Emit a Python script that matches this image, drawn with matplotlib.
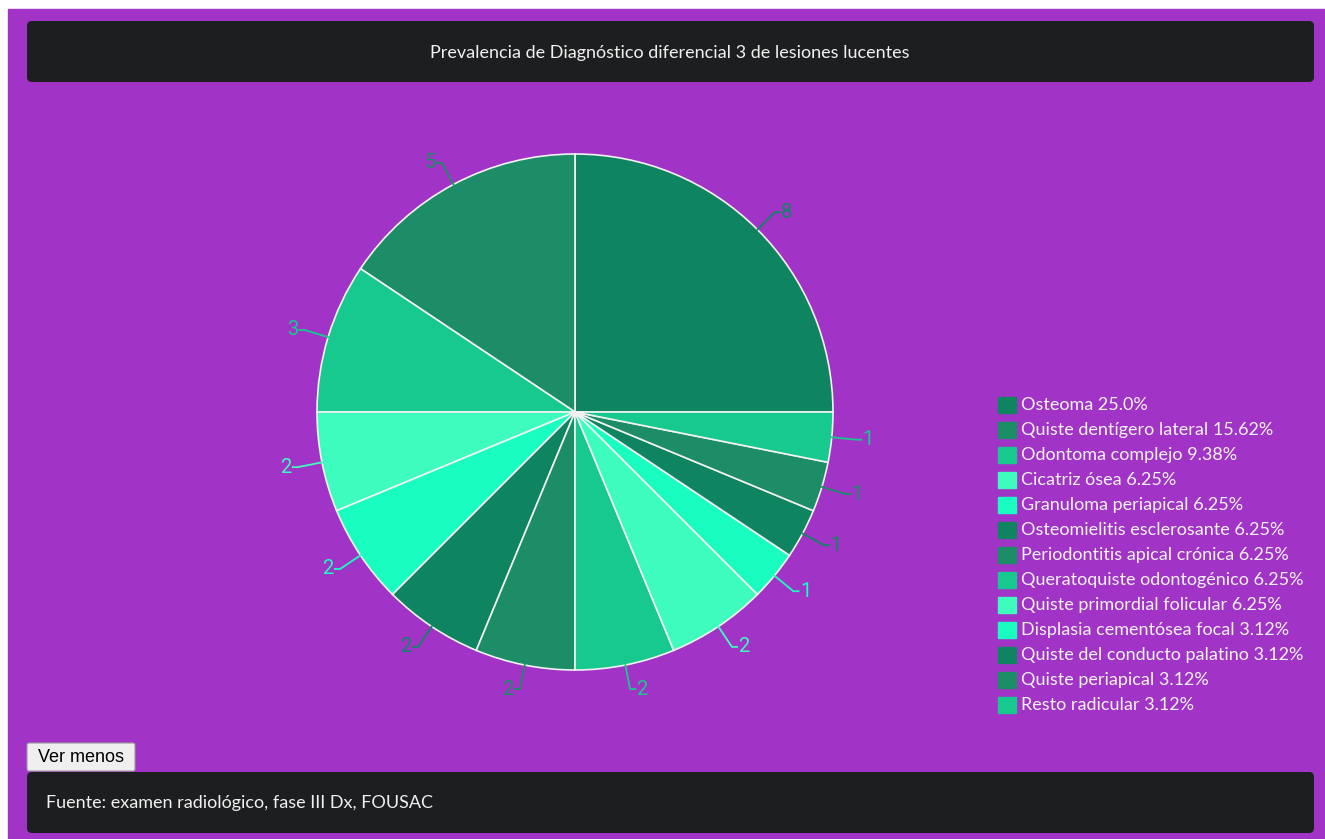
import matplotlib.pyplot as plt
from matplotlib.patches import FancyBboxPatch, Rectangle
import numpy as np

# data
categorias = ["Osteoma", "Quiste dentígero lateral", "Odontoma complejo", "Cicatriz ósea",
              "Granuloma periapical", "Osteomielitis esclerosante", "Periodontitis apical crónica",
              "Queratoquiste odontogénico", "Quiste primordial folicular", "Displasia cementósea focal",
              "Quiste del conducto palatino", "Quiste periapical", "Resto radicular"]
valores = [8, 5, 3, 2, 2, 2, 2, 2, 2, 1, 1, 1, 1]
paleta = ["#0e8560", "#1c8d67", "#17c98f", "#3efcbd", "#1afdc1"]
titulo = "Prevalencia de Diagnóstico diferencial 3 de lesiones lucentes"
fuente = "Fuente: examen radiológico, fase III Dx, FOUSAC"

W, H = 1325, 839
FONT = ["Lato", "DejaVu Sans"]
morado = "#a133c7"
oscuro = "#1d1e20"

fig = plt.figure(figsize=(W / 100, H / 100), dpi=100)
fig.patch.set_facecolor("white")

# capa de fondo en pixeles
bg = fig.add_axes([0, 0, 1, 1])
bg.set_xlim(0, W)
bg.set_ylim(H, 0)
bg.axis("off")
bg.add_patch(Rectangle((8, 9), W - 8, H - 9, color=morado, zorder=0))
bg.add_patch(FancyBboxPatch((27, 21), 1287, 61, boxstyle="round,pad=0,rounding_size=5",
                            fc=oscuro, ec="none", zorder=1))
bg.add_patch(FancyBboxPatch((27, 772), 1287, 61, boxstyle="round,pad=0,rounding_size=5",
                            fc=oscuro, ec="none", zorder=1))
bg.text(670, 53, titulo, color="#f0f0f0", fontsize=13, family=FONT, ha="center", va="center")
bg.text(46, 803, fuente, color="#f0f0f0", fontsize=13, family=FONT, ha="left", va="center")
bg.add_patch(FancyBboxPatch((27, 743), 108, 28, boxstyle="round,pad=0,rounding_size=2",
                            fc="#efefef", ec="#9a9a9a", lw=0.8, zorder=1))
bg.text(81, 757.5, "Ver menos", color="black", fontsize=13, family=["Liberation Sans"],
        ha="center", va="center")

# leyenda
total = sum(valores)
colores = [paleta[i % len(paleta)] for i in range(len(valores))]
for i, (c, v) in enumerate(zip(categorias, valores)):
    y = 405 + i * 25
    bg.add_patch(Rectangle((998, y - 8), 18, 16, color=colores[i], zorder=2))
    bg.text(1021, y, f"{c} {round(v / total * 100, 2)}%", color="#f4f4f4", fontsize=13,
            family=FONT, ha="left", va="center")

# pastel
cx, cy, R = 575, 412, 258
half = 300
ax = fig.add_axes([(cx - half) / W, (H - cy - half) / H, 2 * half / W, 2 * half / H])
wedges, _ = ax.pie(valores, colors=colores, startangle=0, counterclock=True, radius=1,
                   wedgeprops=dict(edgecolor="#f2f2f2", linewidth=1.2))
ax.set_xlim(-half / R, half / R)
ax.set_ylim(-half / R, half / R)
ax.axis("off")

for w, v, col in zip(wedges, valores, colores):
    ang = np.deg2rad((w.theta1 + w.theta2) / 2)
    x0, y0 = np.cos(ang), np.sin(ang)
    x1, y1 = 1.095 * x0, 1.095 * y0
    s = 1 if x0 >= 0 else -1
    x2 = x1 + s * 0.02
    ax.plot([x0, x1, x2], [y0, y1, y1], color=col, lw=1.3, clip_on=False)
    ax.text(x2 + s * 0.005, y1, str(v), color=col, fontsize=14.5, family=["Roboto", "DejaVu Sans"],
            ha="left" if s > 0 else "right", va="center")

fig.savefig("out.png", dpi=100, facecolor=fig.get_facecolor())
